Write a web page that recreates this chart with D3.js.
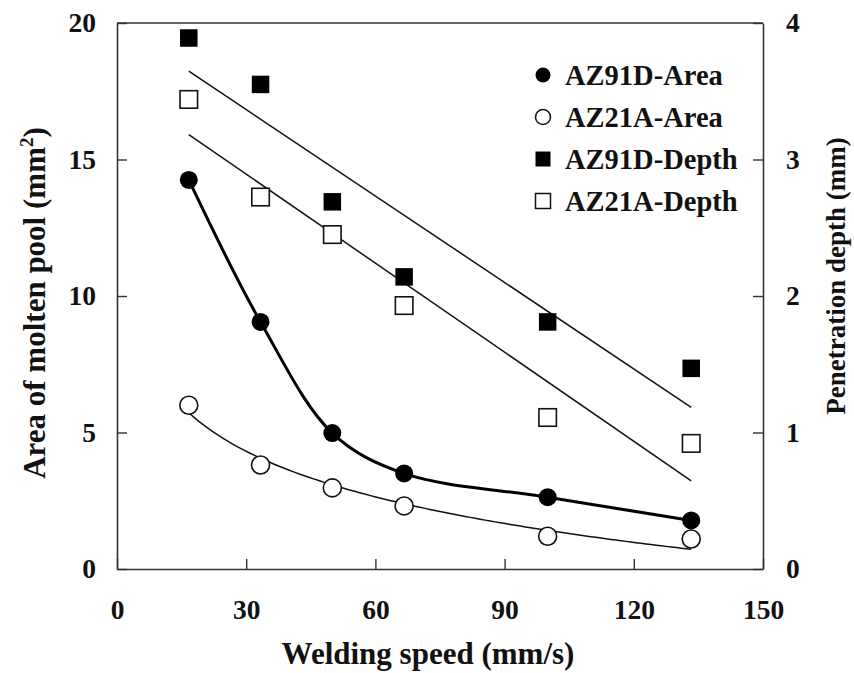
<!DOCTYPE html>
<html>
<head>
<meta charset="utf-8">
<script src="https://cdn.jsdelivr.net/npm/d3@7"></script>
<style>
  html, body { margin: 0; padding: 0; background: #fff; }
  svg { display: block; }
  text { font-family: "Liberation Serif", "Times New Roman", serif; font-weight: bold; fill: #111; }
</style>
</head>
<body>
<svg id="chart" width="854" height="673"></svg>
<script>
// ---- data ----
const speed = [16.67, 33.33, 50, 66.67, 100, 133.33];           // Welding speed (mm/s)
const az91dArea = [14.25, 9.05, 4.98, 3.5, 2.63, 1.78];         // mm^2 (left axis)
const az21aArea = [6.0, 3.81, 2.97, 2.31, 1.2, 1.1];            // mm^2 (left axis)
const az91dDepth = [3.89, 3.55, 2.69, 2.14, 1.81, 1.47];        // mm (right axis)
const az21aDepth = [3.44, 2.725, 2.45, 1.93, 1.11, 0.92];       // mm (right axis)
const xTicks = [0, 30, 60, 90, 120, 150];
const yLeftTicks = [0, 5, 10, 15, 20];
const yRightTicks = [0, 1, 2, 3, 4];
const legendLabels = ["AZ91D-Area", "AZ21A-Area", "AZ91D-Depth", "AZ21A-Depth"];
const xTitle = "Welding speed (mm/s)";
const yLeftTitle = "Area of molten pool (mm";
const yRightTitle = "Penetration depth (mm)";

// ---- layout ----
const svg = d3.select("#chart");
const L = 117, R = 763, T = 23, B = 569;
const x = d3.scaleLinear().domain([0, 150]).range([L, R]);
const yL = d3.scaleLinear().domain([0, 20]).range([B, T]);
const yR = d3.scaleLinear().domain([0, 4]).range([B, T]);
const axisColor = "#333";

// frame top
svg.append("line").attr("x1", L).attr("x2", R).attr("y1", T).attr("y2", T)
  .attr("stroke", axisColor).attr("stroke-width", 1.6);

const gx = svg.append("g").attr("transform", `translate(0,${B})`)
  .call(d3.axisBottom(x).tickValues(xTicks).tickSizeInner(-10).tickSizeOuter(0).tickPadding(30).tickFormat(d3.format("d")));
const gl = svg.append("g").attr("transform", `translate(${L},0)`)
  .call(d3.axisLeft(yL).tickValues(yLeftTicks).tickSizeInner(-10).tickSizeOuter(0).tickPadding(21).tickFormat(d3.format("d")));
const gr = svg.append("g").attr("transform", `translate(${R},0)`)
  .call(d3.axisRight(yR).tickValues(yRightTicks).tickSizeInner(-10).tickSizeOuter(0).tickPadding(23).tickFormat(d3.format("d")));
[gx, gl, gr].forEach(g => {
  g.select(".domain").attr("stroke", axisColor).attr("stroke-width", 1.6);
  g.selectAll(".tick line").attr("stroke", axisColor).attr("stroke-width", 1.4);
  g.selectAll(".tick text").attr("font-size", 27.5).attr("font-family", null).attr("fill", "#111");
});

// ---- fits ----
function linFit(xs, ys) {
  const mx = d3.mean(xs), my = d3.mean(ys);
  const sxy = d3.sum(xs, (v, i) => (v - mx) * (ys[i] - my));
  const sxx = d3.sum(xs, v => (v - mx) * (v - mx));
  const b = sxy / sxx; return { a: my - b * mx, b };
}
const xs0 = speed[0], xs1 = speed[speed.length - 1];

// linear trend lines for depth
[[az91dDepth], [az21aDepth]].forEach(([ys]) => {
  const f = linFit(speed, ys);
  svg.append("line")
    .attr("x1", x(xs0)).attr("y1", yR(f.a + f.b * xs0))
    .attr("x2", x(xs1)).attr("y2", yR(f.a + f.b * xs1))
    .attr("stroke", "#111").attr("stroke-width", 1.5);
});

// logarithmic trend curve for AZ21A area
const lf = linFit(speed.map(Math.log), az21aArea);
const samples = d3.range(0, 101).map(i => xs0 + (xs1 - xs0) * i / 100);
svg.append("path")
  .datum(samples)
  .attr("d", d3.line().x(d => x(d)).y(d => yL(lf.a + lf.b * Math.log(d))))
  .attr("fill", "none").attr("stroke", "#111").attr("stroke-width", 1.5);

// smooth curve through AZ91D area
svg.append("path")
  .datum(speed.map((s, i) => [s, az91dArea[i]]))
  .attr("d", d3.line().x(d => x(d[0])).y(d => yL(d[1])).curve(d3.curveCatmullRom.alpha(0.5)))
  .attr("fill", "none").attr("stroke", "#000").attr("stroke-width", 3);

// ---- markers ----
const sq = 17.5, rad = 9;
svg.append("g").selectAll("rect").data(speed).join("rect")
  .attr("x", d => x(d) - sq / 2).attr("y", (d, i) => yR(az21aDepth[i]) - sq / 2)
  .attr("width", sq).attr("height", sq).attr("fill", "#fff").attr("stroke", "#111").attr("stroke-width", 1.6);
svg.append("g").selectAll("rect").data(speed).join("rect")
  .attr("x", d => x(d) - sq / 2).attr("y", (d, i) => yR(az91dDepth[i]) - sq / 2)
  .attr("width", sq).attr("height", sq).attr("fill", "#000");
svg.append("g").selectAll("circle").data(speed).join("circle")
  .attr("cx", d => x(d)).attr("cy", (d, i) => yL(az21aArea[i])).attr("r", rad)
  .attr("fill", "#fff").attr("stroke", "#111").attr("stroke-width", 1.6);
svg.append("g").selectAll("circle").data(speed).join("circle")
  .attr("cx", d => x(d)).attr("cy", (d, i) => yL(az91dArea[i])).attr("r", rad)
  .attr("fill", "#000");

// ---- legend ----
const lg = svg.append("g");
const lx = 543, ly0 = 75, ldy = 42, ls = 15;
legendLabels.forEach((lab, i) => {
  const cy = ly0 + i * ldy;
  if (i < 2) {
    lg.append("circle").attr("cx", lx).attr("cy", cy).attr("r", ls / 2)
      .attr("fill", i === 0 ? "#000" : "#fff").attr("stroke", "#111").attr("stroke-width", i === 0 ? 0 : 1.5);
  } else {
    lg.append("rect").attr("x", lx - ls / 2).attr("y", cy - ls / 2).attr("width", ls).attr("height", ls)
      .attr("fill", i === 2 ? "#000" : "#fff").attr("stroke", "#111").attr("stroke-width", i === 2 ? 0 : 1.5);
  }
  lg.append("text").attr("x", 565).attr("y", cy).attr("dy", "0.35em").attr("font-size", 28.5).text(lab);
});

// ---- titles ----
svg.append("text").attr("x", 428).attr("y", 664).attr("text-anchor", "middle")
  .attr("font-size", 31).text(xTitle);
const lt = svg.append("text").attr("transform", "translate(45,303) rotate(-90)")
  .attr("text-anchor", "middle").attr("font-size", 31);
lt.append("tspan").text(yLeftTitle);
lt.append("tspan").attr("font-size", 19).attr("dy", -12).text("2");
lt.append("tspan").attr("dy", 12).text(")");
svg.append("text").attr("transform", "translate(845,276) rotate(-90)")
  .attr("text-anchor", "middle").attr("font-size", 27).text(yRightTitle);
</script>
</body>
</html>
